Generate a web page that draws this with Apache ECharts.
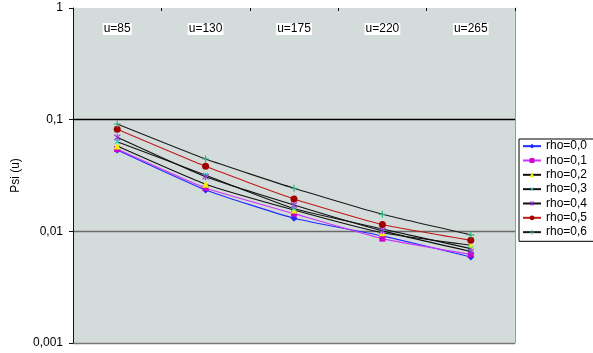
<!DOCTYPE html>
<html>
<head>
<meta charset="utf-8">
<script src="https://cdn.jsdelivr.net/npm/echarts@6/dist/echarts.min.js"></script>
<style>
  html, body { margin: 0; padding: 0; background: #fff; }
  #chart { width: 593px; height: 353px; }
</style>
</head>
<body>
<div id="chart"></div>
<script>
// Categories (initial reserve u) and ruin probabilities per correlation rho
const categories = ['u=85', 'u=130', 'u=175', 'u=220', 'u=265'];
const yTickLabels = ['0,001', '0,01', '0,1', '1'];
const seriesNames = ['rho=0,0', 'rho=0,1', 'rho=0,2', 'rho=0,3', 'rho=0,4', 'rho=0,5', 'rho=0,6'];

const rho00 = [0.0535, 0.0235, 0.0131, 0.0091, 0.0059];
const rho01 = [0.0545, 0.0244, 0.0144, 0.0086, 0.0062];
const rho02 = [0.0580, 0.0264, 0.0155, 0.0097, 0.0075];
const rho03 = [0.0635, 0.0318, 0.0160, 0.0105, 0.0070];
const rho04 = [0.0695, 0.0308, 0.0172, 0.0101, 0.0066];
const rho05 = [0.0820, 0.0382, 0.0195, 0.0115, 0.0083];
const rho06 = [0.0914, 0.0444, 0.0243, 0.0142, 0.0093];

const FONT = '"Liberation Sans", Arial, sans-serif';

// filled cross shapes used as markers
const PLUS = 'path://M4.2,0h1.6v10h-1.6z M0,4.2h10v1.6h-10z';
const STAR = 'path://M4.3,0h1.4v10h-1.4z M0.6,1.6l1,-1l7.8,7.8l-1,1z M9.4,1.6l-1,-1l-7.8,7.8l1,1z';

const styles = [
  { data: rho00, line: '#1f2bff', marker: '#1f2bff', symbol: 'diamond', size: 7, rotate: 0 },
  { data: rho01, line: '#cc33ff', marker: '#cc00cc', symbol: 'rect', size: 6, rotate: 0 },
  { data: rho02, line: '#111111', marker: '#f2f200', symbol: 'triangle', size: 7, rotate: 0 },
  { data: rho03, line: '#111111', marker: '#33d6c0', symbol: PLUS, size: 7, rotate: 45 },
  { data: rho04, line: '#111111', marker: '#9933dd', symbol: STAR, size: 7, rotate: 0 },
  { data: rho05, line: '#c01818', marker: '#a00000', symbol: 'circle', size: 7, rotate: 0 },
  { data: rho06, line: '#1a1a1a', marker: '#2fb07a', symbol: PLUS, size: 7, rotate: 0 }
];

const series = styles.map((s, i) => ({
  name: seriesNames[i],
  type: 'line',
  data: s.data,
  symbol: s.symbol,
  symbolSize: s.size,
  symbolRotate: s.rotate,
  showSymbol: true,
  smooth: 0.15,
  z: 3 + i,
  lineStyle: { color: s.line, width: 1.1 },
  itemStyle: { color: s.marker, borderWidth: 0 },
  emphasis: { disabled: true }
}));

const chart = echarts.init(document.getElementById('chart'), null, { renderer: 'canvas' });
chart.setOption({
  animation: false,
  backgroundColor: '#ffffff',
  textStyle: { fontFamily: FONT },
  grid: {
    left: 73, right: 78, top: 8, bottom: 10,
    show: true, backgroundColor: '#d3dcda', borderWidth: 0
  },
  legend: {
    orient: 'vertical',
    left: 519, top: 139,
    padding: [0, 30, 2, 3],
    itemGap: 0,
    itemWidth: 18,
    itemHeight: 6,
    borderColor: '#000', borderWidth: 1,
    backgroundColor: '#ffffff',
    selectedMode: false,
    textStyle: { fontFamily: FONT, fontSize: 12, color: '#000', lineHeight: 14.33 },
    data: seriesNames
  },
  xAxis: {
    type: 'category',
    data: categories,
    position: 'top',
    boundaryGap: true,
    axisLine: { show: false },
    axisTick: { show: true, inside: true, length: 3, lineStyle: { color: '#000', width: 1 } },
    axisLabel: {
      inside: true, margin: 15,
      fontFamily: FONT, fontSize: 12, color: '#000',
      backgroundColor: '#ffffff', padding: [0, 1, 0, 1]
    },
    splitLine: { show: false }
  },
  yAxis: [{
    type: 'log',
    logBase: 10,
    min: 0.001,
    max: 1,
    name: 'Psi (u)',
    nameLocation: 'middle',
    nameGap: 48,
    nameRotate: 90,
    nameTextStyle: { fontFamily: FONT, fontSize: 12, color: '#000' },
    axisLine: { show: true, lineStyle: { color: '#111', width: 1 } },
    axisTick: { show: true, length: 4, lineStyle: { color: '#111' } },
    axisLabel: {
      fontFamily: FONT, fontSize: 12, color: '#000', margin: 10,
      formatter: v => yTickLabels[Math.round(Math.log10(v)) + 3]
    },
    splitLine: {
      show: true,
      lineStyle: { color: ['#777777', '#6a6a6a', '#000000', 'rgba(0,0,0,0)'], width: 1.3 }
    }
  }, {
    type: 'log',
    logBase: 10,
    min: 0.001,
    max: 1,
    position: 'right',
    axisLine: { show: true, lineStyle: { color: '#9a9a9a', width: 1 } },
    axisTick: { show: false },
    axisLabel: { show: false },
    splitLine: { show: false }
  }],
  series: series
});
</script>
</body>
</html>
